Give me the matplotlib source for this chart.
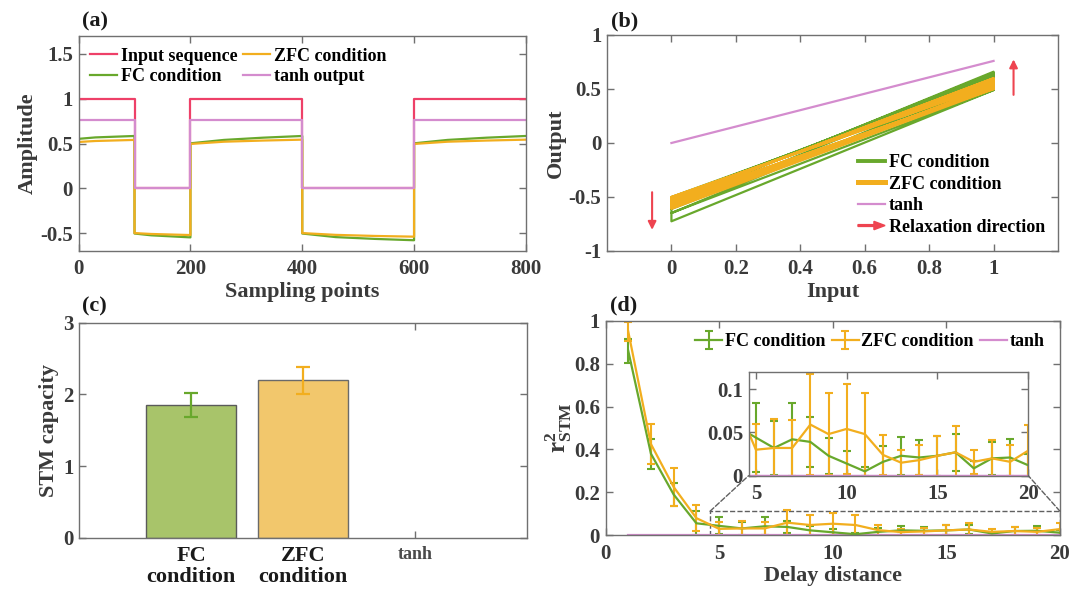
"""
Four-panel figure: step response, input/output map, STM capacity and r^2 vs delay
"""

import matplotlib
matplotlib.use('Agg')
import matplotlib.pyplot as plt
from matplotlib.patches import FancyArrow, Rectangle, ConnectionPatch
from matplotlib.legend_handler import HandlerPatch
from matplotlib.lines import Line2D

plt.rcParams['font.family'] = ['Liberation Serif', 'DejaVu Serif']
plt.rcParams['font.weight'] = 'bold'
plt.rcParams['axes.labelweight'] = 'bold'
plt.rcParams['axes.unicode_minus'] = False
plt.rcParams['mathtext.fontset'] = 'custom'
plt.rcParams['mathtext.rm'] = 'Liberation Serif:bold'
plt.rcParams['mathtext.it'] = 'Liberation Serif:italic:bold'
plt.rcParams['mathtext.bf'] = 'Liberation Serif:bold'

# colours
RED = '#EE4068'
GREEN = '#68A82C'
ORANGE = '#F2AE1E'
PINK = '#D48CCE'
ARROW_RED = '#EE4450'
SPINE = '#707070'
TICKTXT = '#3a3a3a'

# ---- (a) data: time series
seq_t = [0, 100, 100, 200, 200, 400, 400, 600, 600, 800]
input_seq = [1, 1, 0, 0, 1, 1, 0, 0, 1, 1]
tanh_seq = [0.76, 0.76, 0, 0, 0.76, 0.76, 0, 0, 0.76, 0.76]
resp_t = [0, 30, 100, 100, 130, 200, 200, 260, 330, 400, 400, 460, 530, 600, 600, 660, 730, 800]
fc_seq = [0.552, 0.568, 0.584, -0.505, -0.525, -0.548, 0.502, 0.540, 0.565, 0.584,
          -0.505, -0.545, -0.565, -0.580, 0.502, 0.540, 0.565, 0.584]
zfc_seq = [0.517, 0.528, 0.540, -0.500, -0.510, -0.522, 0.495, 0.520, 0.533, 0.543,
           -0.500, -0.520, -0.532, -0.540, 0.495, 0.520, 0.533, 0.543]

# ---- (b) data: output at input 1 (start/end of phase) and input 0 (start/end)
fc_hi_start = [0.50, 0.51, 0.52, 0.53, 0.54, 0.55, 0.52, 0.49, 0.49]
fc_hi_end = [0.58, 0.60, 0.62, 0.64, 0.65, 0.66, 0.63, 0.60, 0.52]
fc_lo_start = [-0.50, -0.51, -0.52, -0.54, -0.55, -0.56, -0.60, -0.65]
fc_lo_end = [-0.55, -0.57, -0.58, -0.60, -0.61, -0.60, -0.647, -0.725]
zfc_hi_start = [0.50, 0.50, 0.51, 0.51, 0.52, 0.52, 0.52, 0.53, 0.50]
zfc_hi_end = [0.54, 0.55, 0.56, 0.57, 0.58, 0.59, 0.60, 0.60, 0.52]
zfc_lo_start = [-0.50, -0.50, -0.51, -0.51, -0.52, -0.52, -0.53, -0.53]
zfc_lo_end = [-0.53, -0.54, -0.56, -0.57, -0.58, -0.59, -0.60, -0.61]
tanh_in = [0, 1]
tanh_out = [0, 0.76]

# ---- (c) data
cap_labels = ['FC\ncondition', 'ZFC\ncondition', 'tanh']
cap_values = [1.855, 2.195, 0]
cap_err = [0.17, 0.193, 0]

# ---- (d) data
delay = [1, 2, 3, 4, 5, 6, 7, 8, 9, 10, 11, 12, 13, 14, 15, 16, 17, 18, 19, 20]
fc_r2 = [0.86, 0.38, 0.19, 0.056, 0.044, 0.032, 0.042, 0.039, 0.023, 0.014,
         0.005, 0.016, 0.023, 0.021, 0.023, 0.027, 0.0085, 0.020, 0.021, 0.012]
fc_err = [0.055, 0.07, 0.055, 0.055, 0.040, 0.031, 0.042, 0.029, 0.021, 0.015,
          0.005, 0.018, 0.022, 0.020, 0.023, 0.021, 0.009, 0.019, 0.021, 0.013]
zfc_r2 = [0.95, 0.425, 0.225, 0.08, 0.030, 0.032, 0.032, 0.059, 0.048, 0.054,
          0.048, 0.024, 0.015, 0.018, 0.023, 0.027, 0.016, 0.020, 0.016, 0.029]
zfc_err = [0.045, 0.095, 0.09, 0.06, 0.030, 0.034, 0.032, 0.058, 0.047, 0.052,
           0.048, 0.023, 0.015, 0.017, 0.023, 0.030, 0.014, 0.021, 0.019, 0.030]
tanh_r2 = [0, 0, 0, 0, 0, 0, 0, 0, 0, 0, 0, 0, 0, 0, 0, 0, 0, 0, 0, 0]


class HandlerArrow(HandlerPatch):
    """legend entry drawn as a small arrow"""

    def create_artists(self, legend, orig_handle, xdescent, ydescent, width, height, fontsize, trans):
        a = FancyArrow(-xdescent, height / 2 - ydescent, width, 0, width=1.3, head_width=6,
                       head_length=8, length_includes_head=True, color=orig_handle.get_facecolor())
        a.set_transform(trans)
        return [a]


def style_axes(ax, size=15):
    for s in ax.spines.values():
        s.set_color(SPINE)
        s.set_linewidth(1.0)
    ax.tick_params(direction='in', length=5, width=1, colors=SPINE, labelcolor=TICKTXT,
                   labelsize=size, top=True, right=True)
    ax.tick_params(axis='x', pad=6)
    ax.tick_params(axis='y', pad=4)
    for lab in ax.get_xticklabels() + ax.get_yticklabels():
        lab.set_fontweight('bold')


def path_from_phases(hs, he, ls, le):
    xs, ys = [], []
    for k in range(len(ls)):
        xs += [1, 1, 0, 0]
        ys += [hs[k], he[k], ls[k], le[k]]
    xs += [1, 1]
    ys += [hs[-1], he[-1]]
    return xs, ys


W, H = 1079, 591
fig = plt.figure(figsize=(W / 100, H / 100), dpi=100)


def box(l, t, r, b):
    return [l / W, 1 - b / H, (r - l) / W, (b - t) / H]


# ---------------- (a)
ax_a = fig.add_axes(box(78.6, 36, 525.9, 251))
ax_a.plot(seq_t, input_seq, color=RED, lw=1.6, label='Input sequence')
ax_a.plot(resp_t, fc_seq, color=GREEN, lw=1.6, label='FC condition')
ax_a.plot(resp_t, zfc_seq, color=ORANGE, lw=1.6, label='ZFC condition')
ax_a.plot(seq_t, tanh_seq, color=PINK, lw=1.6, label='tanh output')
ax_a.set_xlim(0, 800)
ax_a.set_ylim(-0.7, 1.7)
ax_a.set_xticks([0, 200, 400, 600, 800])
ax_a.set_yticks([-0.5, 0, 0.5, 1, 1.5])
ax_a.set_yticklabels(['-0.5', '0', '0.5', '1', '1.5'])
style_axes(ax_a)
ax_a.set_xlabel('Sampling points', fontsize=16, color=TICKTXT, labelpad=2)
ax_a.set_ylabel('Amplitude', fontsize=16, color=TICKTXT, labelpad=2)
ax_a.legend(ncol=2, loc='upper left', bbox_to_anchor=(0.0, 1.0), frameon=False, fontsize=13,
            handlelength=1.5, handletextpad=0.2, columnspacing=0.3, labelspacing=0.2,
            borderaxespad=0.25)

# ---------------- (b)
ax_b = fig.add_axes(box(607, 35, 1058, 251))
fx, fy = path_from_phases(fc_hi_start, fc_hi_end, fc_lo_start, fc_lo_end)
zx, zy = path_from_phases(zfc_hi_start, zfc_hi_end, zfc_lo_start, zfc_lo_end)
ax_b.plot(fx, fy, color=GREEN, lw=1.6)
ax_b.plot(zx, zy, color=ORANGE, lw=1.6)
ax_b.plot(tanh_in, tanh_out, color=PINK, lw=1.6)
ax_b.annotate('', xy=(-0.06, -0.83), xytext=(-0.06, -0.43),
              arrowprops=dict(arrowstyle='-|>', color=ARROW_RED, lw=1.5, mutation_scale=12))
ax_b.annotate('', xy=(1.062, 0.80), xytext=(1.062, 0.42),
              arrowprops=dict(arrowstyle='-|>', color=ARROW_RED, lw=1.5, mutation_scale=12))
ax_b.set_xlim(-0.2, 1.2)
ax_b.set_ylim(-1, 1)
ax_b.set_xticks([0, 0.2, 0.4, 0.6, 0.8, 1])
ax_b.set_xticklabels(['0', '0.2', '0.4', '0.6', '0.8', '1'])
ax_b.set_yticks([-1, -0.5, 0, 0.5, 1])
ax_b.set_yticklabels(['-1', '-0.5', '0', '0.5', '1'])
style_axes(ax_b)
ax_b.set_xlabel('Input', fontsize=16, color=TICKTXT, labelpad=2)
ax_b.set_ylabel('Output', fontsize=16, color=TICKTXT, labelpad=2)
arrow_handle = FancyArrow(0, 0, 1, 0, color=ARROW_RED)
b_handles = [Line2D([], [], color=GREEN, lw=2.8), Line2D([], [], color=ORANGE, lw=3.6),
             Line2D([], [], color=PINK, lw=1.6), arrow_handle]
ax_b.legend(b_handles, ['FC condition', 'ZFC condition', 'tanh', 'Relaxation direction'],
            handler_map={FancyArrow: HandlerArrow()}, loc='lower right',
            bbox_to_anchor=(0.995, 0.02), frameon=False, fontsize=13, handlelength=1.5,
            handletextpad=0.2, labelspacing=0.25, borderaxespad=0.2)

# ---------------- (c)
ax_c = fig.add_axes(box(79.3, 322.7, 526.6, 537.7))
pos = [1, 2, 3]
ax_c.bar(pos, cap_values, width=0.8, color=['#A8C46A', '#F2C76C', '#FFFFFF'],
         edgecolor=['#5a5a5a', '#6a6a6a', 'none'], linewidth=1.0, zorder=2)
ax_c.errorbar(pos[0], cap_values[0], yerr=cap_err[0], color=GREEN, capsize=5, lw=1.6,
              capthick=1.6, zorder=3)
ax_c.errorbar(pos[1], cap_values[1], yerr=cap_err[1], color=ORANGE, capsize=5, lw=1.6,
              capthick=1.6, zorder=3)
ax_c.set_xlim(0, 4)
ax_c.set_ylim(0, 3)
ax_c.set_yticks([0, 1, 2, 3])
ax_c.set_xticks(pos)
ax_c.set_xticklabels(cap_labels)
ax_c.xaxis.remove_overlapping_locs = False
ax_c.set_xticks([3], minor=True)
style_axes(ax_c)
ax_c.tick_params(axis='x', which='major', length=0, pad=6)
ax_c.tick_params(axis='x', which='minor', direction='in', length=5, width=1, colors=SPINE,
                 top=True, bottom=True)
for i, lab in enumerate(ax_c.get_xticklabels()):
    if i < 2:
        lab.set_fontsize(16)
        lab.set_color('#1a1a1a')
        lab.set_linespacing(1.05)
    else:
        lab.set_fontsize(13)
        lab.set_color('#4a4a4a')
ax_c.set_ylabel('STM capacity', fontsize=16, color=TICKTXT, labelpad=3)

# ---------------- (d)
ax_d = fig.add_axes(box(605.5, 320.7, 1060, 535.3))
ekw = dict(capsize=3, lw=1.6, elinewidth=1.5, capthick=1.5)
h_fc = ax_d.errorbar(delay, fc_r2, yerr=fc_err, color=GREEN, **ekw)
h_zfc = ax_d.errorbar(delay, zfc_r2, yerr=zfc_err, color=ORANGE, **ekw)
h_tanh, = ax_d.plot(delay, tanh_r2, color=PINK, lw=1.6)
ax_d.set_xlim(0, 20)
ax_d.set_ylim(0, 1)
ax_d.set_xticks([0, 5, 10, 15, 20])
ax_d.set_yticks([0, 0.2, 0.4, 0.6, 0.8, 1])
ax_d.set_yticklabels(['0', '0.2', '0.4', '0.6', '0.8', '1'])
style_axes(ax_d)
ax_d.set_xlabel('Delay distance', fontsize=16, color=TICKTXT, labelpad=2)
ax_d.set_ylabel(r'$\mathrm{r}^{2}_{\mathrm{STM}}$', fontsize=18, color=TICKTXT, labelpad=0)
ax_d.legend([h_fc, h_zfc, h_tanh], ['FC condition', 'ZFC condition', 'tanh'], ncol=3,
            loc='upper right', bbox_to_anchor=(0.995, 1.0), frameon=False, fontsize=13,
            handlelength=1.5, handletextpad=0.15, columnspacing=0.35, borderaxespad=0.3)

# zoom box and inset
rect_x0, rect_top = 4.6, 0.112
ax_d.add_patch(Rectangle((rect_x0, 0), 20 - rect_x0, rect_top, fill=False, ls='--',
                         ec='#606060', lw=1.0, zorder=1))
ins = fig.add_axes(box(748.6, 371.7, 1028.3, 475.7))
ins.errorbar(delay, fc_r2, yerr=fc_err, color=GREEN, **ekw)
ins.errorbar(delay, zfc_r2, yerr=zfc_err, color=ORANGE, **ekw)
ins.plot(delay, tanh_r2, color=PINK, lw=2.5)
ins.set_xlim(rect_x0, 20)
ins.set_ylim(0, 0.12)
ins.set_xticks([5, 10, 15, 20])
ins.set_yticks([0, 0.05, 0.1])
ins.set_yticklabels(['0', '0.05', '0.1'])
style_axes(ins)
for xa in [rect_x0, 20]:
    con = ConnectionPatch(xyA=(xa, rect_top), coordsA=ax_d.transData, xyB=(xa, 0),
                          coordsB=ins.transData, ls='--', color='#606060', lw=1.0)
    fig.add_artist(con)

# panel letters
for txt, x, y in [('(a)', 82, 21.7), ('(b)', 611, 21.7), ('(c)', 82, 306.7), ('(d)', 610, 305)]:
    fig.text(x / W, 1 - y / H, txt, fontsize=16, fontweight='bold', color='#1a1a1a',
             va='center', ha='left')

fig.savefig('out.png', dpi=100)
